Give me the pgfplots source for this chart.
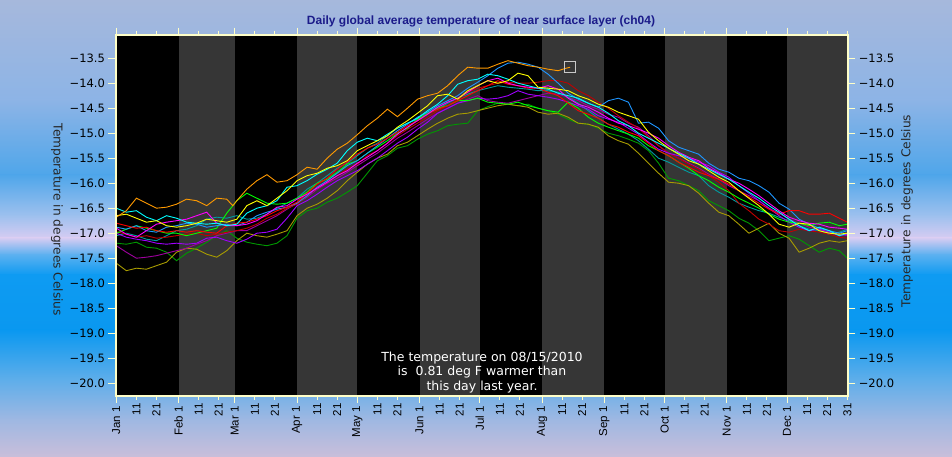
\documentclass[border=0pt]{standalone}
\usepackage{pgfplots}
\pgfplotsset{compat=1.18}
\usepackage{pgfplotstable}
\usepackage{fontspec}
\setmainfont{DejaVu Sans}
\newfontfamily\libsans{Liberation Sans}

\definecolor{bgA}{HTML}{A6B8DC}
\definecolor{bgB}{HTML}{8DB4E6}
\definecolor{bgC}{HTML}{4FA6EA}
\definecolor{bgD}{HTML}{9CC0EE}
\definecolor{bgE}{HTML}{D6CCF2}
\definecolor{bgF}{HTML}{5AB0F0}
\definecolor{bgG}{HTML}{0E9BF2}
\definecolor{bgH}{HTML}{0A98F0}
\definecolor{bgI}{HTML}{5FAEEA}
\definecolor{bgJ}{HTML}{9FB8E2}
\definecolor{bgK}{HTML}{C9BEDA}
\definecolor{cream}{HTML}{FFFFC8}
\definecolor{bandgray}{HTML}{363636}
\definecolor{titleblue}{HTML}{1B1B8A}
\definecolor{boxgray}{HTML}{C8C8C8}
\definecolor{sOrange}{HTML}{FF9A00}
\definecolor{sYellow}{HTML}{FFFF00}
\definecolor{sCyan}{HTML}{00FFFF}
\definecolor{sBlue}{HTML}{1E96FF}
\definecolor{sTeal}{HTML}{009CA0}
\definecolor{sMagenta}{HTML}{FF00FF}
\definecolor{sViolet}{HTML}{A000FF}
\definecolor{sRed}{HTML}{FF0000}
\definecolor{sDarkRed}{HTML}{C00000}
\definecolor{sLime}{HTML}{00FF00}
\definecolor{sGreen}{HTML}{009900}
\definecolor{sOlive}{HTML}{A89C00}
\definecolor{sPurple}{HTML}{A000A0}

% day-of-year (Jan 1 = 0), temperature in deg C
\pgfplotstableread{
d B C D E F G H I J M
0 -16.65 -16.50 -16.88 -17.05 -16.90 -17.00 -16.80 -16.97 -17.00 -17.25
5 -16.62 -16.58 -16.92 -17.00 -17.02 -17.08 -16.85 -17.02 -16.92 -17.38
10 -16.70 -16.55 -16.85 -17.05 -17.08 -17.12 -16.90 -17.08 -16.85 -17.50
15 -16.78 -16.68 -16.95 -17.12 -16.95 -17.15 -16.88 -17.05 -16.90 -17.48
20 -16.75 -16.75 -16.98 -17.15 -16.82 -17.20 -16.95 -17.10 -16.95 -17.45
25 -16.85 -16.65 -16.88 -17.05 -16.78 -17.22 -16.98 -17.08 -17.00 -17.40
30 -16.88 -16.70 -16.85 -16.95 -16.75 -17.20 -16.95 -17.05 -17.00 -17.35
35 -16.85 -16.78 -16.80 -16.92 -16.72 -17.22 -16.98 -17.02 -17.05 -17.30
40 -16.80 -16.80 -16.82 -16.85 -16.65 -17.20 -16.95 -17.00 -17.00 -17.22
45 -16.72 -16.82 -16.88 -16.72 -16.58 -17.10 -16.98 -17.05 -16.95 -17.15
50 -16.75 -16.80 -16.85 -16.68 -16.80 -17.08 -17.00 -17.02 -16.90 -17.05
55 -16.78 -16.85 -16.82 -16.70 -16.85 -17.15 -16.85 -16.98 -16.60 -17.00
60 -16.72 -16.82 -16.85 -16.65 -16.85 -17.20 -16.80 -16.95 -16.35 -16.95
65 -16.45 -16.60 -16.78 -16.72 -16.82 -17.12 -16.78 -16.90 -16.20 -16.95
70 -16.35 -16.50 -16.65 -16.70 -16.75 -17.00 -16.72 -16.82 -16.30 -16.85
75 -16.45 -16.45 -16.58 -16.62 -16.62 -16.98 -16.65 -16.70 -16.40 -16.75
80 -16.30 -16.35 -16.52 -16.50 -16.48 -16.92 -16.55 -16.62 -16.42 -16.65
85 -16.15 -16.08 -16.48 -16.40 -16.45 -16.70 -16.48 -16.50 -16.40 -16.52
90 -15.95 -16.05 -16.40 -16.30 -16.32 -16.45 -16.38 -16.42 -16.30 -16.40
95 -15.85 -15.95 -16.25 -16.12 -16.22 -16.35 -16.20 -16.25 -16.18 -16.28
100 -15.80 -15.82 -16.08 -16.00 -16.10 -16.22 -16.02 -16.10 -16.00 -16.12
105 -15.70 -15.72 -15.95 -15.85 -15.98 -16.08 -15.90 -15.98 -15.92 -16.00
110 -15.65 -15.60 -15.80 -15.70 -15.85 -15.95 -15.72 -15.85 -15.78 -15.90
115 -15.55 -15.35 -15.65 -15.60 -15.75 -15.85 -15.58 -15.72 -15.62 -15.78
120 -15.35 -15.18 -15.55 -15.45 -15.60 -15.75 -15.42 -15.62 -15.55 -15.65
125 -15.25 -15.10 -15.40 -15.30 -15.48 -15.62 -15.30 -15.45 -15.40 -15.52
130 -15.15 -15.15 -15.25 -15.20 -15.35 -15.50 -15.22 -15.35 -15.28 -15.40
135 -15.05 -15.02 -15.10 -15.05 -15.20 -15.35 -15.10 -15.20 -15.15 -15.25
140 -14.88 -14.90 -14.95 -14.90 -15.02 -15.20 -14.98 -15.05 -15.00 -15.10
145 -14.75 -14.80 -14.82 -14.80 -14.88 -15.08 -14.85 -14.92 -14.90 -14.98
150 -14.60 -14.70 -14.68 -14.72 -14.75 -14.92 -14.75 -14.80 -14.72 -14.85
155 -14.45 -14.55 -14.58 -14.60 -14.62 -14.78 -14.62 -14.68 -14.60 -14.72
160 -14.25 -14.42 -14.45 -14.52 -14.48 -14.60 -14.52 -14.55 -14.50 -14.60
165 -14.22 -14.25 -14.35 -14.40 -14.38 -14.50 -14.45 -14.45 -14.45 -14.50
170 -14.32 -14.02 -14.25 -14.30 -14.30 -14.40 -14.35 -14.32 -14.35 -14.40
175 -14.15 -13.95 -14.10 -14.22 -14.18 -14.35 -14.25 -14.18 -14.35 -14.32
180 -14.05 -13.92 -13.98 -14.15 -14.05 -14.30 -14.15 -14.10 -14.30 -14.25
185 -13.95 -13.82 -13.85 -14.10 -13.95 -14.32 -14.05 -14.05 -14.38 -14.35
190 -14.00 -13.85 -13.70 -14.05 -13.90 -14.30 -13.95 -14.00 -14.40 -14.38
195 -13.95 -13.92 -13.60 -14.08 -14.00 -14.25 -14.02 -13.98 -14.42 -14.40
200 -13.80 -14.00 -13.58 -14.10 -14.05 -14.15 -14.05 -14.00 -14.38 -14.35
205 -13.85 -14.05 -13.62 -14.12 -14.08 -14.22 -14.10 -14.00 -14.45 -14.30
210 -14.08 -14.10 -13.68 -14.15 -14.10 -14.25 -14.10 -13.98 -14.50 -14.25
215 -14.10 -14.12 -13.82 -14.15 -14.05 -14.28 -14.18 -13.95 -14.55 -14.20
220 -14.12 -14.20 -14.00 -14.18 -14.12 -14.32 -14.25 -13.95 -14.58 -14.22
225 -14.15 -14.25 -14.20 -14.28 -14.30 -14.38 -14.40 -14.00 -14.38 -14.28
230 -14.25 -14.30 -14.32 -14.40 -14.42 -14.45 -14.55 -14.15 -14.50 -14.35
235 -14.32 -14.40 -14.40 -14.55 -14.48 -14.52 -14.62 -14.25 -14.68 -14.45
240 -14.42 -14.48 -14.48 -14.70 -14.58 -14.65 -14.70 -14.38 -14.80 -14.52
245 -14.48 -14.60 -14.35 -14.82 -14.70 -14.72 -14.82 -14.50 -14.88 -14.62
250 -14.58 -14.75 -14.30 -14.92 -14.80 -14.78 -14.88 -14.65 -14.95 -14.68
255 -14.65 -14.85 -14.38 -15.02 -14.85 -14.90 -14.98 -14.78 -15.02 -14.80
260 -14.72 -15.00 -14.80 -15.15 -14.92 -15.02 -15.05 -14.90 -15.10 -14.88
265 -14.98 -15.10 -14.78 -15.32 -15.00 -15.18 -15.20 -15.08 -15.25 -15.05
270 -15.15 -15.20 -14.90 -15.50 -15.10 -15.32 -15.35 -15.25 -15.35 -15.25
275 -15.30 -15.30 -15.15 -15.58 -15.25 -15.40 -15.45 -15.40 -15.45 -15.40
280 -15.42 -15.40 -15.28 -15.68 -15.38 -15.45 -15.58 -15.50 -15.58 -15.50
285 -15.55 -15.50 -15.35 -15.78 -15.48 -15.50 -15.68 -15.62 -15.70 -15.60
290 -15.62 -15.62 -15.42 -15.85 -15.55 -15.58 -15.78 -15.72 -15.85 -15.70
295 -15.75 -15.72 -15.60 -16.05 -15.70 -15.65 -15.85 -15.85 -15.95 -15.82
300 -15.88 -15.82 -15.72 -16.18 -15.80 -15.78 -15.92 -15.98 -16.08 -15.92
305 -15.98 -15.92 -15.78 -16.28 -15.92 -15.88 -16.02 -16.15 -16.18 -16.05
310 -16.15 -16.05 -15.90 -16.40 -16.00 -16.05 -16.15 -16.40 -16.30 -16.15
315 -16.30 -16.18 -15.95 -16.48 -16.12 -16.20 -16.28 -16.55 -16.40 -16.25
320 -16.45 -16.30 -16.05 -16.55 -16.25 -16.35 -16.40 -16.72 -16.50 -16.35
325 -16.62 -16.45 -16.18 -16.60 -16.40 -16.50 -16.52 -16.82 -16.62 -16.50
330 -16.82 -16.58 -16.40 -16.68 -16.55 -16.65 -16.62 -16.95 -16.72 -16.60
335 -16.88 -16.72 -16.52 -16.75 -16.68 -16.78 -16.55 -16.98 -16.78 -16.72
340 -16.80 -16.85 -16.72 -16.85 -16.75 -16.88 -16.55 -16.92 -16.80 -16.80
345 -16.82 -16.95 -16.82 -16.92 -16.80 -16.95 -16.62 -16.95 -16.85 -16.88
350 -16.95 -16.88 -16.90 -16.95 -16.82 -16.92 -16.62 -16.98 -16.80 -16.92
355 -17.00 -16.95 -16.95 -17.02 -16.88 -16.98 -16.60 -17.02 -16.78 -16.98
360 -17.02 -17.05 -17.00 -16.98 -16.90 -17.05 -16.70 -17.08 -16.85 -17.02
364 -17.00 -17.00 -16.95 -16.92 -16.92 -17.02 -16.78 -17.10 -16.82 -17.05
}\mainyears

\pgfplotstableread{
d K L
0 -17.20 -17.60
5 -17.22 -17.75
10 -17.18 -17.70
15 -17.28 -17.72
20 -17.30 -17.65
25 -17.38 -17.58
30 -17.55 -17.38
35 -17.40 -17.30
40 -17.30 -17.32
45 -17.18 -17.42
50 -17.05 -17.48
55 -16.95 -17.35
60 -17.10 -17.15
65 -17.18 -17.00
70 -17.22 -17.05
75 -17.25 -17.08
80 -17.20 -17.02
85 -17.05 -16.95
90 -16.70 -16.65
95 -16.55 -16.50
100 -16.50 -16.42
105 -16.38 -16.30
110 -16.30 -16.15
115 -16.18 -15.95
120 -16.05 -15.78
125 -15.80 -15.62
130 -15.55 -15.50
135 -15.45 -15.42
140 -15.30 -15.25
145 -15.25 -15.18
150 -15.12 -15.05
155 -15.02 -14.92
160 -14.95 -14.80
165 -14.85 -14.70
170 -14.82 -14.62
175 -14.80 -14.60
180 -14.55 -14.55
185 -14.47 -14.50
190 -14.40 -14.45
195 -14.42 -14.42
200 -14.45 -14.45
205 -14.42 -14.48
210 -14.50 -14.58
215 -14.55 -14.62
220 -14.62 -14.60
225 -14.72 -14.68
230 -14.80 -14.80
235 -14.82 -14.82
240 -14.90 -14.88
245 -15.00 -15.05
250 -15.05 -15.15
255 -15.12 -15.22
260 -15.20 -15.40
265 -15.35 -15.60
270 -15.60 -15.80
275 -15.90 -15.98
280 -15.95 -16.00
285 -16.05 -16.05
290 -16.15 -16.20
295 -16.35 -16.40
300 -16.45 -16.58
305 -16.55 -16.65
310 -16.70 -16.82
315 -16.80 -17.00
320 -16.95 -16.90
325 -17.15 -16.80
330 -17.10 -17.00
335 -17.05 -17.10
340 -17.12 -17.38
345 -17.25 -17.30
350 -17.38 -17.20
355 -17.30 -17.15
360 -17.35 -17.18
364 -17.50 -17.15
}\lowyears

\pgfplotstableread{
d A
0 -16.68
5 -16.55
10 -16.30
15 -16.40
20 -16.50
25 -16.48
30 -16.42
35 -16.32
40 -16.35
45 -16.45
50 -16.30
55 -16.32
58 -16.45
60 -16.35
65 -16.12
70 -15.95
75 -15.83
80 -15.98
85 -15.95
90 -15.83
95 -15.68
100 -15.72
105 -15.50
110 -15.32
115 -15.20
120 -15.03
125 -14.85
130 -14.70
135 -14.52
140 -14.67
145 -14.50
150 -14.32
155 -14.25
160 -14.20
165 -14.05
170 -13.85
175 -13.68
180 -13.70
185 -13.70
190 -13.62
195 -13.55
200 -13.60
205 -13.65
210 -13.68
215 -13.72
220 -13.75
224 -13.70
226 -13.68
}\thisyear

\pgfplotsset{
  tempframe/.style={
    at={(115.5pt,61.3pt)}, anchor=south west,
    scale only axis, width=732.8pt, height=361pt,
    xmin=-0.4, xmax=364.5, ymin=-20.25, ymax=-13.03,
    axis line style={draw=cream, line width=2pt},
    tick align=outside, major tick length=7pt,
    tick style={draw=cream, line width=1pt},
    ytick={-20,-19.5,-19,-18.5,-18,-17.5,-17,-16.5,-16,-15.5,-15,-14.5,-14,-13.5},
    yticklabels={−20.0,−19.5,−19.0,−18.5,−18.0,−17.5,−17.0,−16.5,−16.0,−15.5,−15.0,−14.5,−14.0,−13.5},
    yticklabel style={font=\fontsize{11.5}{13}\selectfont, text=black},
    ylabel={Temperature in degrees Celsius},
    ylabel style={font=\fontsize{12.2}{14}\selectfont, text=black!85},
  }
}

\begin{document}
\begin{tikzpicture}
\useasboundingbox (0pt,0pt) rectangle (952pt,457pt);
\shade[top color=bgA, bottom color=bgB] (0pt,457pt) rectangle (952pt,357pt);
\shade[top color=bgB, bottom color=bgC] (0pt,357pt) rectangle (952pt,282pt);
\shade[top color=bgC, bottom color=bgD] (0pt,282pt) rectangle (952pt,242pt);
\shade[top color=bgD, bottom color=bgE] (0pt,242pt) rectangle (952pt,219pt);
\shade[top color=bgE, bottom color=bgF] (0pt,219pt) rectangle (952pt,202pt);
\shade[top color=bgF, bottom color=bgG] (0pt,202pt) rectangle (952pt,182pt);
\shade[top color=bgG, bottom color=bgH] (0pt,182pt) rectangle (952pt,127pt);
\shade[top color=bgH, bottom color=bgI] (0pt,127pt) rectangle (952pt,77pt);
\shade[top color=bgI, bottom color=bgJ] (0pt,77pt) rectangle (952pt,37pt);
\shade[top color=bgJ, bottom color=bgK] (0pt,37pt) rectangle (952pt,0pt);

\begin{axis}[tempframe,
    axis background/.style={fill=black},
    xtick={0,31,59,90,120,151,181,212,243,273,304,334},
    xticklabels={Jan 1,Feb 1,Mar 1,Apr 1,May 1,Jun 1,Jul 1,Aug 1,Sep 1,Oct 1,Nov 1,Dec 1},
    extra x ticks={10,20,41,51,69,79,100,110,130,140,161,171,191,201,222,232,253,263,283,293,314,324,344,354,364},
    extra x tick labels={11,21,11,21,11,21,11,21,11,21,11,21,11,21,11,21,11,21,11,21,11,21,11,21,31},
    extra x tick style={major tick length=4pt},
    xtick pos=both, ytick pos=left,
    xticklabel style={rotate=90, anchor=east, font=\libsans\fontsize{11.5}{12}\selectfont, text=black},
    ylabel style={at={(axis description cs:-0.0798,0.487)}, anchor=center, rotate=180},
    every axis plot/.append style={line width=0.9pt},
  ]
  \fill[bandgray] (axis cs:31,-20.25) rectangle (axis cs:59,-13.03);
  \fill[bandgray] (axis cs:90,-20.25) rectangle (axis cs:120,-13.03);
  \fill[bandgray] (axis cs:151,-20.25) rectangle (axis cs:181,-13.03);
  \fill[bandgray] (axis cs:212,-20.25) rectangle (axis cs:243,-13.03);
  \fill[bandgray] (axis cs:273,-20.25) rectangle (axis cs:304,-13.03);
  \fill[bandgray] (axis cs:334,-20.25) rectangle (axis cs:364.5,-13.03);

  \addplot[sGreen] table[x=d, y=K] {\lowyears};
  \addplot[sOlive] table[x=d, y=L] {\lowyears};
  \addplot[sPurple] table[x=d, y=M] {\mainyears};
  \addplot[sTeal] table[x=d, y=E] {\mainyears};
  \addplot[sDarkRed] table[x=d, y=I] {\mainyears};
  \addplot[sViolet] table[x=d, y=G] {\mainyears};
  \addplot[sLime] table[x=d, y=J] {\mainyears};
  \addplot[sBlue] table[x=d, y=D] {\mainyears};
  \addplot[sRed] table[x=d, y=H] {\mainyears};
  \addplot[sMagenta] table[x=d, y=F] {\mainyears};
  \addplot[sCyan] table[x=d, y=C] {\mainyears};
  \addplot[sYellow] table[x=d, y=B] {\mainyears};
  \addplot[sOrange] table[x=d, y=A] {\thisyear};
  \addplot[only marks, mark=square, mark size=5.3pt, mark options={draw=boxgray, line width=1pt}] coordinates {(226,-13.68)};
\end{axis}

\begin{axis}[tempframe,
    xtick=\empty,
    ytick pos=right, yticklabel pos=right,
    ylabel style={at={(axis description cs:1.080,0.512)}, anchor=center},
  ]
\end{axis}

\node[font=\libsans\bfseries\fontsize{12}{14}\selectfont, text=titleblue] at (481pt,436pt) {Daily global average temperature of near surface layer (ch04)};
\node[align=center, text=white, font=\fontsize{12.5}{14.5}\selectfont] at (482pt,84.7pt) {The temperature on 08/15/2010\\ is\ \ 0.81 deg F warmer than\\ this day last year.};
\end{tikzpicture}
\end{document}
